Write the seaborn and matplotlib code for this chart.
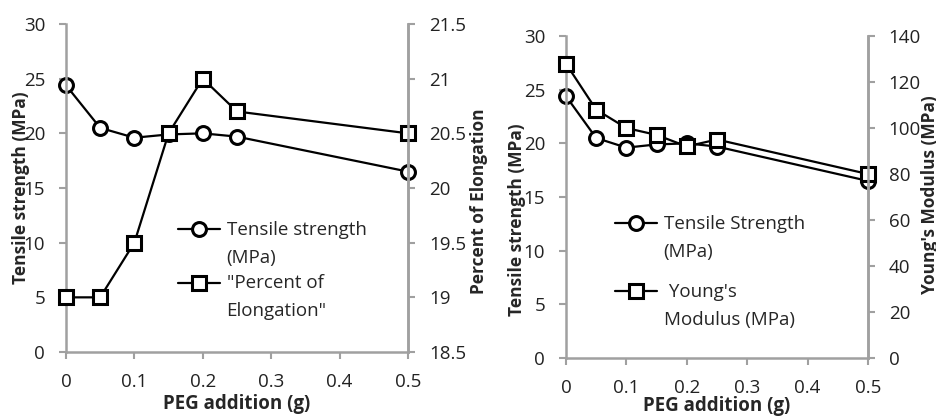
import matplotlib
matplotlib.use("Agg")
import numpy as np
import matplotlib.pyplot as plt
import seaborn as sns
from matplotlib.legend_handler import HandlerLine2D

# ─── DATA ─────────────────────────────────────────────────────────────────────
peg = [0, 0.05, 0.1, 0.15, 0.2, 0.25, 0.5]
tensile = [24.4, 20.5, 19.6, 19.9, 20.0, 19.7, 16.5]
elongation = [19.0, 19.0, 19.5, 20.5, 21.0, 20.7, 20.5]
youngs = [128, 108, 100, 97, 92, 95, 80]

x_ticks = [0, 0.1, 0.2, 0.3, 0.4, 0.5]
ts_ticks = [0, 5, 10, 15, 20, 25, 30]
el_ticks = [18.5, 19, 19.5, 20, 20.5, 21, 21.5]
ym_ticks = [0, 20, 40, 60, 80, 100, 120, 140]

# ─── STYLE ────────────────────────────────────────────────────────────────────
sns.set_style("ticks")
plt.rcParams["font.family"] = ["Open Sans", "DejaVu Sans"]
GRAY = "#a0a0a0"
TICK_FS = 13.5
XLABEL_FS = 13.5
YLABEL_FS = 12.5
LEGEND_FS = 13.5
LINESPACING = 1.7


class FirstLineHandler(HandlerLine2D):
    # put the legend marker next to the first line of a two-line label
    def create_artists(self, legend, orig_handle, xdescent, ydescent,
                       width, height, fontsize, trans):
        artists = super().create_artists(legend, orig_handle, xdescent, ydescent,
                                         width, height, fontsize, trans)
        shift = fontsize * LINESPACING * 0.5 * 0.95
        for a in artists:
            a.set_ydata(np.asarray(a.get_ydata()) + shift)
        return artists


fig = plt.figure(figsize=(9.37, 4.16), dpi=100)
ax_l = fig.add_axes([0.0704, 0.1538, 0.365, 0.7885])
ax_r = fig.add_axes([0.604, 0.1394, 0.3223, 0.774])


def draw(ax, x, y, marker):
    sns.lineplot(x=x, y=y, ax=ax, color="black", linewidth=1.6,
                 marker=marker, markersize=10, markerfacecolor="white",
                 markeredgecolor="black", markeredgewidth=2.2,
                 clip_on=False, legend=False)
    return ax.lines[-1]


def style(ax):
    ax.spines["top"].set_visible(False)
    for side in ["left", "right", "bottom"]:
        ax.spines[side].set_color(GRAY)
        ax.spines[side].set_linewidth(1.8)
    ax.tick_params(axis="both", direction="out", length=5, width=1.5,
                   color=GRAY, labelsize=TICK_FS, labelcolor="#222222")
    ax.tick_params(axis="y", pad=10)
    ax.tick_params(axis="x", pad=10)


def panel(ax, y2, y2_ticks, y2_lim, y2_label):
    ax2 = ax.twinx()
    h1 = draw(ax, peg, tensile, "o")
    h2 = draw(ax2, peg, y2, "s")

    ax.set_xlim(0, 0.5)
    ax.set_xticks(x_ticks)
    ax.set_xticklabels([f"{v:g}" for v in x_ticks])
    ax.set_ylim(0, 30)
    ax.set_yticks(ts_ticks)
    ax2.set_ylim(*y2_lim)
    ax2.set_yticks(y2_ticks)
    ax2.set_yticklabels([f"{v:g}" for v in y2_ticks])

    style(ax)
    style(ax2)
    ax2.spines["left"].set_visible(False)
    ax2.spines["bottom"].set_visible(False)

    ax.set_xlabel("PEG addition (g)", fontsize=XLABEL_FS, fontweight="bold")
    ax.set_ylabel("Tensile strength (MPa)", fontsize=YLABEL_FS, fontweight="bold")
    ax2.set_ylabel(y2_label, fontsize=YLABEL_FS, fontweight="bold")
    return ax2, h1, h2


def legend(ax, handles, labels, anchor, spacing):
    leg = ax.legend(handles, labels, loc="upper left", bbox_to_anchor=anchor,
                    frameon=False, fontsize=LEGEND_FS, handlelength=2.25,
                    handletextpad=0.35, labelspacing=spacing, borderpad=0,
                    borderaxespad=0,
                    handler_map={h: FirstLineHandler() for h in handles})
    for t in leg.get_texts():
        t.set_linespacing(LINESPACING)
    return leg


# left panel: tensile strength vs elongation
ax_l2, h1, h2 = panel(ax_l, elongation, el_ticks, (18.5, 21.5), "Percent of Elongation")
ax_l.xaxis.set_label_coords(0.499, -0.127)
ax_l.yaxis.set_label_coords(-0.105, 0.5)
ax_l2.yaxis.set_label_coords(1.181, 0.46)
legend(ax_l2, [h1, h2], ["Tensile strength\n(MPa)", "\"Percent of\nElongation\""],
       (0.327, 0.40), 0.42)

# right panel: tensile strength vs Young's modulus
ax_r2, g1, g2 = panel(ax_r, youngs, ym_ticks, (0, 140), "Young's Modulus (MPa)")
ax_r.xaxis.set_label_coords(0.5, -0.118)
ax_r.yaxis.set_label_coords(-0.132, 0.43)
ax_r2.yaxis.set_label_coords(1.175, 0.506)
legend(ax_r2, [g1, g2], ["Tensile Strength\n(MPa)", " Young's\nModulus (MPa)"],
       (0.162, 0.445), 1.2)

fig.savefig("out.png", dpi=100)
